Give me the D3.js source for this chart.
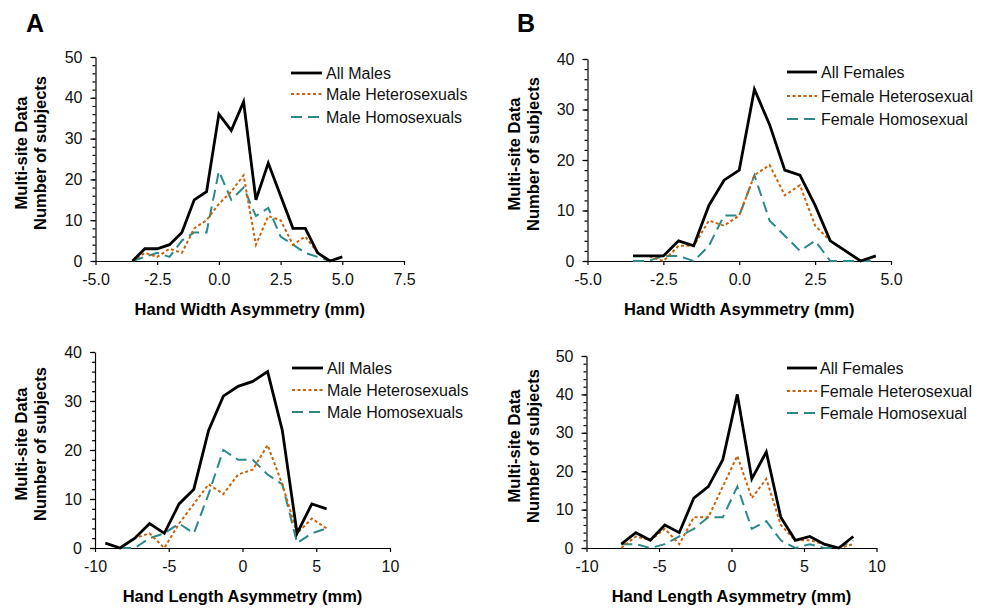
<!DOCTYPE html>
<html>
<head>
<meta charset="utf-8">
<script src="https://cdn.jsdelivr.net/npm/d3@7.8.5/dist/d3.min.js"></script>
<style>
  body { margin: 0; background: #fff; }
  svg { font-family: "Liberation Sans", Arial, sans-serif; }
  .tick text { font-size: 16px; fill: #111; }
</style>
</head>
<body>
<div id="chart"></div>
<script>
// Hand width asymmetry, males (panel A)
const widthXMale = [-3.5, -3, -2.5, -2, -1.5, -1, -0.5, 0, 0.5, 1, 1.5, 2, 2.5, 3, 3.5, 4, 4.5, 5];
const allMalesW = [0, 3, 3, 4, 7, 15, 17, 36, 32, 39, 15, 24, 16, 8, 8, 2, 0, 1];
const maleHetW = [0, 2, 1, 3, 2, 8, 10, 14, 17, 21, 4, 11, 10, 4, 6, 2, 0];
const maleHomW = [0, 1, 2, 1, 5, 7, 7, 22, 15, 18, 11, 13, 6, 4, 2, 1, 0];

// Hand width asymmetry, females (panel B)
const widthXFemale = [-3.5, -3, -2.5, -2, -1.5, -1, -0.5, 0, 0.5, 1, 1.5, 2, 2.5, 3, 3.5, 4, 4.5];
const allFemW = [1, 1, 1, 4, 3, 11, 16, 18, 34, 27, 18, 17, 11, 4, 2, 0, 1];
const femHetW = [1, 1, 0, 3, 3, 8, 7, 9, 17, 19, 13, 15, 7, 4, 2, 0, 1];
const femHomW = [0, 0, 1, 1, 0, 3, 9, 9, 17, 8, 5, 2, 4, 0, 0, 0, 0];

// Hand length asymmetry, males (panel C)
const lengthXMale = [-9.3, -8.3, -7.3, -6.3, -5.3, -4.3, -3.3, -2.3, -1.3, -0.3, 0.7, 1.7, 2.7, 3.7, 4.7, 5.7];
const allMalesL = [1, 0, 2, 5, 3, 9, 12, 24, 31, 33, 34, 36, 24, 3, 9, 8];
const maleHetL = [null, 0, 2, 3, 0, 5, 9, 13, 11, 15, 16, 21, 13, 3, 6, 4];
const maleHomL = [null, 0, 0, 2, 3, 5, 3, 11, 20, 18, 18, 15, 13, 1, 3, 4];

// Hand length asymmetry, females (panel D)
const lengthXFemale = [-7.6, -6.6, -5.6, -4.6, -3.6, -2.6, -1.6, -0.6, 0.4, 1.4, 2.4, 3.4, 4.4, 5.4, 6.4, 7.4, 8.4];
const allFemL = [1, 4, 2, 6, 4, 13, 16, 23, 40, 18, 25, 8, 2, 3, 1, 0, 3];
const femHetL = [0, 3, 2, 5, 1, 8, 8, 16, 24, 13, 18, 6, 2, 2, 1, 0, 1];
const femHomL = [1, 1, 0, 1, 3, 5, 8, 8, 16, 5, 7, 2, 0, 1, 0, 0, 2];

const widthTicksA = [-5, -2.5, 0, 2.5, 5, 7.5];
const widthTicksB = [-5, -2.5, 0, 2.5, 5];
const lengthTicks = [-10, -5, 0, 5, 10];

const maleNames = ['All Males', 'Male Heterosexuals', 'Male Homosexuals'];
const femaleNames = ['All Females', 'Female Heterosexual', 'Female Homosexual'];

const styles = [
    { color: '#000000', width: 2.8, dash: null },
    { color: '#c8620a', width: 2, dash: '3,2.5' },
    { color: '#2a8a8a', width: 2, dash: '11,6' }
];

const svg = d3.select('#chart').append('svg')
    .attr('width', 987)
    .attr('height', 608);

function drawPanel(cfg) {
    const x = d3.scaleLinear().domain(cfg.xDomain).range(cfg.xRange);
    const y = d3.scaleLinear().domain([0, cfg.yMax]).range(cfg.yRange);
    const g = svg.append('g');

    // minor y ticks
    g.append('g')
        .attr('transform', `translate(${cfg.xRange[0]},0)`)
        .call(d3.axisLeft(y).tickValues(d3.range(0, cfg.yMax + 1, 2)).tickSize(3).tickFormat(''))
        .call(a => a.select('.domain').remove());

    // major y axis
    g.append('g')
        .attr('transform', `translate(${cfg.xRange[0]},0)`)
        .call(d3.axisLeft(y).tickValues(d3.range(0, cfg.yMax + 1, 10)).tickSize(5).tickSizeOuter(0).tickPadding(8).tickFormat(d3.format('d')));

    // x axis
    g.append('g')
        .attr('transform', `translate(0,${cfg.yRange[0]})`)
        .call(d3.axisBottom(x).tickValues(cfg.xTicks).tickSize(4).tickSizeOuter(0).tickPadding(9).tickFormat(cfg.xFormat));

    g.selectAll('.domain, .tick line').attr('stroke', '#000').attr('stroke-width', 1.2);

    // series lines (all-subjects line drawn on top)
    const line = d3.line()
        .defined(d => d[1] != null)
        .x(d => x(d[0]))
        .y(d => y(d[1]));

    [2, 1, 0].forEach(i => {
        const pts = cfg.xs.map((v, j) => [v, cfg.series[i][j]]).filter(d => d[1] !== undefined);
        g.append('path')
            .datum(pts)
            .attr('d', line)
            .attr('fill', 'none')
            .attr('stroke', styles[i].color)
            .attr('stroke-width', styles[i].width)
            .attr('stroke-dasharray', styles[i].dash)
            .attr('stroke-linejoin', 'miter');
    });

    // legend
    cfg.names.forEach((name, i) => {
        const ly = cfg.legend.y[i];
        g.append('line')
            .attr('x1', cfg.legend.x1).attr('x2', cfg.legend.x2)
            .attr('y1', ly).attr('y2', ly)
            .attr('stroke', styles[i].color)
            .attr('stroke-width', styles[i].width)
            .attr('stroke-dasharray', styles[i].dash);
        g.append('text')
            .attr('x', cfg.legend.tx)
            .attr('y', ly)
            .attr('dy', '0.36em')
            .style('font-size', '16px')
            .style('fill', '#111')
            .text(name);
    });

    // axis titles
    g.append('text')
        .attr('x', (cfg.xRange[0] + cfg.xRange[1]) / 2)
        .attr('y', cfg.yRange[0] + 54)
        .attr('text-anchor', 'middle')
        .style('font-size', '16.5px')
        .style('font-weight', 'bold')
        .text(cfg.xTitle);

    const midY = (cfg.yRange[0] + cfg.yRange[1]) / 2 - 6;
    ['Multi-site Data', 'Number of subjects'].forEach((t, i) => {
        g.append('text')
            .attr('transform', `translate(${cfg.yTitleX + i * 19},${midY}) rotate(-90)`)
            .attr('text-anchor', 'middle')
            .attr('dy', '0.36em')
            .style('font-size', '16.5px')
            .style('font-weight', 'bold')
            .text(t);
    });
}

const fmt1 = d => d.toFixed(1);
const fmt0 = d => String(d);

drawPanel({
    xDomain: [-5, 7.5], xRange: [95.5, 404], yMax: 50, yRange: [261, 57],
    xTicks: widthTicksA, xFormat: fmt1, xs: widthXMale,
    series: [allMalesW, maleHetW, maleHomW], names: maleNames,
    legend: { x1: 291, x2: 322, tx: 326, y: [73, 94, 117] },
    xTitle: 'Hand Width Asymmetry (mm)', yTitleX: 21
});

drawPanel({
    xDomain: [-5, 5], xRange: [587.5, 891], yMax: 40, yRange: [261, 59],
    xTicks: widthTicksB, xFormat: fmt1, xs: widthXFemale,
    series: [allFemW, femHetW, femHomW], names: femaleNames,
    legend: { x1: 787, x2: 817, tx: 821, y: [72, 96, 119] },
    xTitle: 'Hand Width Asymmetry (mm)', yTitleX: 514
});

drawPanel({
    xDomain: [-10, 10], xRange: [95, 390], yMax: 40, yRange: [548, 352],
    xTicks: lengthTicks, xFormat: fmt0, xs: lengthXMale,
    series: [allMalesL, maleHetL, maleHomL], names: maleNames,
    legend: { x1: 292, x2: 323, tx: 327, y: [368, 390, 412] },
    xTitle: 'Hand Length Asymmetry (mm)', yTitleX: 21
});

drawPanel({
    xDomain: [-10, 10], xRange: [586.5, 876.5], yMax: 50, yRange: [548, 356],
    xTicks: lengthTicks, xFormat: fmt0, xs: lengthXFemale,
    series: [allFemL, femHetL, femHomL], names: femaleNames,
    legend: { x1: 787, x2: 817, tx: 820, y: [368, 391, 413] },
    xTitle: 'Hand Length Asymmetry (mm)', yTitleX: 514
});

// panel letters
svg.append('text').attr('x', 26).attr('y', 32)
    .style('font-size', '25px').style('font-weight', 'bold').text('A');
svg.append('text').attr('x', 517).attr('y', 32)
    .style('font-size', '25px').style('font-weight', 'bold').text('B');
</script>
</body>
</html>
